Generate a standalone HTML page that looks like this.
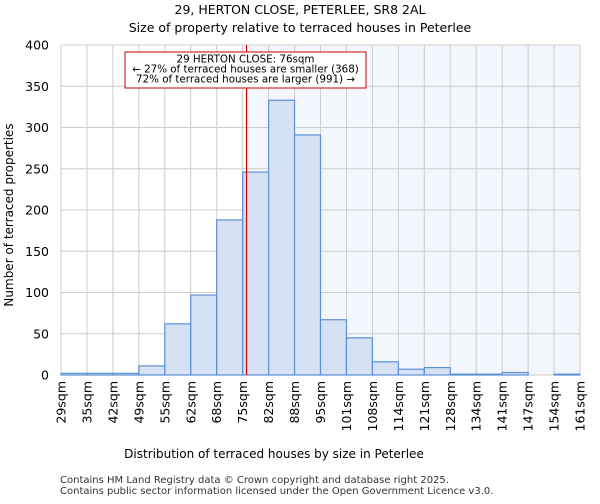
<!DOCTYPE html>
<html><head><meta charset="utf-8"><style>
body{margin:0;background:#fff;font-family:"DejaVu Sans","Liberation Sans",sans-serif}
</style></head><body>
<svg id="c" width="600" height="500" xmlns="http://www.w3.org/2000/svg" font-family="DejaVu Sans, Liberation Sans, sans-serif">
<text x="300" y="14" text-anchor="middle" font-size="12.5">29, HERTON CLOSE, PETERLEE, SR8 2AL</text>
<text x="300" y="32" text-anchor="middle" font-size="12.5">Size of property relative to terraced houses in Peterlee</text>
<g id="g"></g>
<text x="274" y="458" text-anchor="middle" font-size="12">Distribution of terraced houses by size in Peterlee</text>
<text transform="translate(13,215) rotate(-90)" text-anchor="middle" font-size="12">Number of terraced properties</text>
<text x="60" y="483" font-size="10" fill="#333">Contains HM Land Registry data © Crown copyright and database right 2025.</text>
<text x="60" y="494" font-size="10" fill="#333">Contains public sector information licensed under the Open Government Licence v3.0.</text>
</svg>
<script>
const edgeLabels=["29sqm","35sqm","42sqm","49sqm","55sqm","62sqm","68sqm","75sqm","82sqm","88sqm","95sqm","101sqm","108sqm","114sqm","121sqm","128sqm","134sqm","141sqm","147sqm","154sqm","161sqm"];
const counts=[2,2,2,11,62,97,188,246,333,291,67,45,16,7,9,1,1,3,0,1];
const yTicks=[0,50,100,150,200,250,300,350,400];
const markerBin=7.15;
const NS="http://www.w3.org/2000/svg";
const L=61,R=580,T=45,B=375,yMax=400;
const bw=(R-L)/counts.length;
const x=i=>L+i*bw, y=v=>B-(v/yMax)*(B-T);
const g=document.getElementById('g');
function mk(t,a){const e=document.createElementNS(NS,t);for(const k in a)e.setAttribute(k,a[k]);g.appendChild(e);return e;}
let e=mk('rect',{x:x(markerBin),y:T,width:R-x(markerBin),height:B-T,fill:'#f3f6fd'});


edgeLabels.forEach((l,i)=>{e=mk('line',{x1:x(i),x2:x(i),y1:T,y2:B,stroke:'#ccc'});

});
yTicks.forEach(v=>{e=mk('line',{x1:L,x2:R,y1:y(v),y2:y(v),stroke:'#ccc'});


e=mk('text',{x:L-12,y:y(v)+4.5,'text-anchor':'end','font-size':12.5});e.textContent=v;

});
counts.forEach((c,i)=>{e=mk('rect',{x:x(i),y:y(c),width:bw,height:B-y(c),fill:'#d6e1f3',stroke:'#5b8fd6','stroke-width':1.2});

});
edgeLabels.forEach((l,i)=>{e=mk('text',{transform:`translate(${x(i)+4.5},381) rotate(-90)`,'text-anchor':'end','font-size':12.5});e.textContent=l;

});
e=mk('line',{x1:x(markerBin),x2:x(markerBin),y1:T,y2:B,stroke:'#cc0000','stroke-width':1.2});


e=mk('rect',{x:125,y:52,width:241,height:36,fill:'#fff',stroke:'#cc0000'});


["29 HERTON CLOSE: 76sqm","← 27% of terraced houses are smaller (368)","72% of terraced houses are larger (991) →"].forEach((t,i)=>{e=mk('text',{x:245.5,y:62.5+i*10,'text-anchor':'middle','font-size':10.3});e.textContent=t;

});
</script>
</body></html>
